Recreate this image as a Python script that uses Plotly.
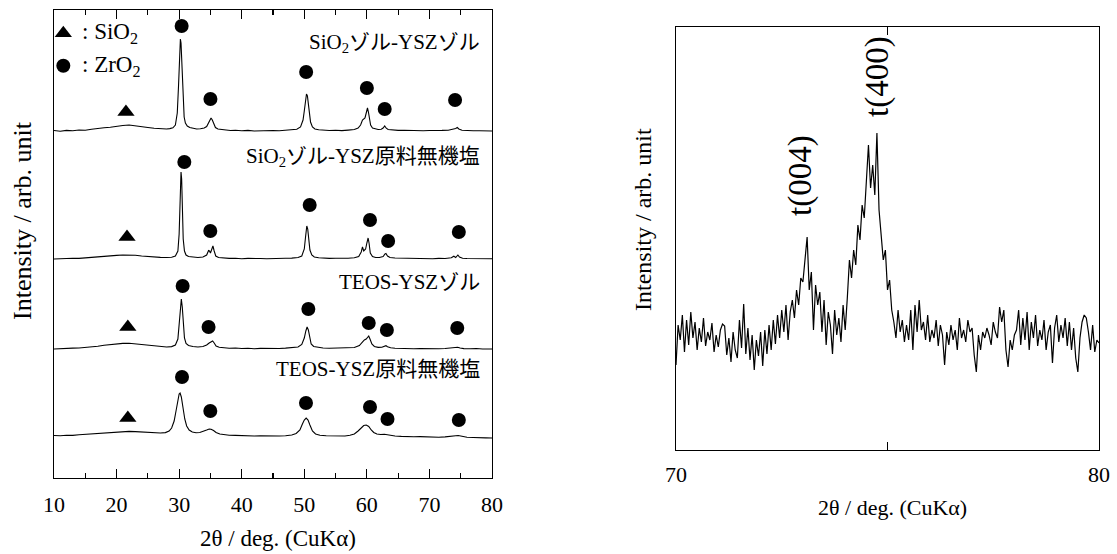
import plotly.graph_objects as go

# ---------------- data (left panel: XRD patterns, intensity in arb. units) ----------------
SAMPLE_NAMES = ["SiO<sub>2</sub>ゾル-YSZゾル", "SiO<sub>2</sub>ゾル-YSZ原料無機塩",
                "TEOS-YSZゾル", "TEOS-YSZ原料無機塩"]
BASE_OFFSETS = [347, 219, 129, 41]

x_sol_sol = [10, 11, 12, 13, 14, 15, 16, 17, 18, 19, 20, 21, 22, 23, 24, 25, 26, 27, 28, 28.5, 29, 29.4, 29.7, 29.9,
             30.0, 30.1, 30.2, 30.3, 30.4, 30.5, 30.6, 30.8, 31.0, 31.3, 31.7, 32.2, 32.8, 33.4, 34.0, 34.4, 34.7,
             34.9, 35.1, 35.3, 35.5, 35.8, 36.2, 36.8, 37.5, 38.2, 39, 40, 41, 42, 43, 44, 45, 46, 47, 48, 48.8,
             49.4, 49.8, 50.0, 50.2, 50.35, 50.5, 50.65, 50.8, 51.0, 51.3, 51.7, 52.3, 53, 54, 55, 56, 57, 58, 58.6,
             59.0, 59.3, 59.5, 59.7, 59.9, 60.1, 60.25, 60.4, 60.6, 60.9, 61.3, 61.8, 62.3, 62.6, 62.85, 63.1, 63.4,
             64, 65, 66, 67, 68, 69, 70, 71, 72, 73, 73.8, 74.2, 74.45, 74.7, 75.2, 76, 77, 78, 79, 80]
y_sol_sol = [0.5, -0.3, 0.6, 0.2, 1.0, 0.8, 1.8, 2.2, 3.2, 3.8, 4.8, 5.5, 6.0, 5.4, 4.6, 3.5, 2.8, 2.2, 2.0, 2.4, 3.2,
             6, 18, 45, 68, 85, 92, 88, 70, 48, 30, 14, 8, 5, 3.5, 2.5, 2.0, 2.2, 3.0, 4.5, 8, 11, 13, 11, 7, 3.5, 2,
             1.2, 1, 0.5, 0.8, 0.2, 0.6, 0, 0.4, 0.1, 0.5, 0.3, 0.8, 1.0, 1.8, 4, 11, 20, 32, 37, 35, 27, 17, 9, 4,
             2, 1.2, 0.8, 0.5, 0.8, 0.4, 0.9, 1.5, 3, 6, 11, 12, 13, 18, 23, 19, 12, 6, 3, 2, 1.5, 1.8, 3, 5, 2.8,
             1.5, 1, 0.6, 0.8, 0.4, 0.6, 0.2, 0.5, 0.3, 0.6, 0.8, 1.5, 2.5, 3.5, 2, 0.8, 0.4, 0.2, 0.3, -0.2, 0]

x_sol_salt = [10, 11, 12, 13, 14, 15, 16, 17, 18, 19, 20, 21, 22, 23, 24, 25, 26, 27, 28, 28.8, 29.4, 29.8, 30.0,
              30.15, 30.3, 30.4, 30.5, 30.65, 30.85, 31.1, 31.5, 32.2, 33, 33.8, 34.4, 34.7, 34.85, 35.0, 35.2, 35.4,
              35.6, 35.85, 36.3, 37, 38, 39, 40, 41, 42, 43, 44, 45, 46, 47, 48, 49, 49.6, 50.0, 50.2, 50.4, 50.55,
              50.7, 50.9, 51.2, 51.6, 52.3, 53, 54, 55, 56, 57, 58, 58.7, 59.1, 59.3, 59.5, 59.8, 60.0, 60.2, 60.35,
              60.55, 60.9, 61.4, 62, 62.6, 62.9, 63.05, 63.3, 63.7, 64.5, 65.5, 66.5, 67.5, 68.5, 69.5, 70.5, 71.5,
              72.5, 73.5, 73.9, 74.2, 74.55, 74.8, 75.3, 76, 77, 78, 79, 80]
y_sol_salt = [0, 0.4, 0.2, 0.8, 0.6, 1.2, 1.5, 2.0, 2.6, 3.0, 3.6, 4.0, 4.2, 3.8, 3.0, 2.4, 1.8, 1.6, 1.5, 1.8, 3, 8,
              25, 60, 87, 80, 50, 20, 8, 4, 2.5, 1.8, 1.5, 2, 4, 8.5, 8, 6, 10, 13, 8, 3, 1.5, 1, 0.6, 0.8, 0.3, 0.6,
              0.2, 0.5, 0.2, 0.6, 0.4, 0.7, 0.9, 1.5, 3, 10, 22, 33, 30, 20, 9, 4, 2, 1.2, 0.8, 0.6, 0.8, 0.5, 0.8,
              1.2, 2.5, 7, 12, 8, 10, 16, 21, 16, 6, 2.5, 1.5, 1.5, 2.5, 5, 5.5, 3, 1.5, 1, 0.8, 0.5, 0.8, 0.4, 0.6,
              0.3, 0.6, 0.5, 1.2, 2.8, 1.5, 4, 2, 0.8, 0.5, 0.3, 0.5, 0.1, 0.2]

x_teos_sol = [10, 11, 12, 13, 14, 15, 16, 17, 18, 19, 20, 21, 22, 23, 24, 25, 26, 27, 28, 28.8, 29.4, 29.8, 30.0,
              30.2, 30.35, 30.5, 30.65, 30.85, 31.1, 31.5, 32.2, 33, 33.8, 34.4, 34.8, 35.1, 35.35, 35.6, 35.9, 36.4,
              37, 38, 39, 40, 41, 42, 43, 44, 45, 46, 47, 48, 49, 49.6, 50.0, 50.25, 50.45, 50.65, 50.85, 51.1, 51.5,
              52.2, 53, 54, 55, 56, 57, 58, 58.8, 59.3, 59.6, 59.9, 60.1, 60.3, 60.5, 60.8, 61.2, 61.8, 62.4, 62.8,
              63.05, 63.3, 63.8, 64.5, 65.5, 66.5, 67.5, 68.5, 69.5, 70.5, 71.5, 72.5, 73.5, 74.1, 74.5, 74.9, 75.5,
              76.5, 77.5, 78.5, 79.5, 80]
y_teos_sol = [0, 0.5, 0.3, 0.9, 1.0, 1.5, 2.2, 2.8, 3.8, 4.5, 5.2, 5.6, 5.8, 5.2, 4.4, 3.6, 2.8, 2.3, 2.0, 2.4, 4, 10,
              22, 40, 50, 42, 25, 11, 5.5, 3.5, 2.5, 2, 2.5, 4, 6, 7, 8, 6, 3, 1.8, 1.2, 0.8, 1.0, 0.5, 0.8, 0.3, 0.6,
              0.4, 0.7, 0.5, 0.9, 1.2, 2, 4.5, 11, 18, 22, 19, 11, 5, 2.5, 1.5, 1, 0.8, 1.0, 0.6, 0.9, 1.5, 3.5, 7, 9,
              10, 12, 13, 10, 5, 2.5, 1.6, 1.8, 2.8, 3.3, 2.2, 1.2, 0.8, 0.5, 0.8, 0.3, 0.5, 0.2, 0.6, 0.3, 0.5, 0.8,
              1.2, 1.8, 1, 0.4, 0.2, 0.5, 0, 0.3, 0]

x_teos_salt = [10, 11, 12, 13, 14, 15, 16, 17, 18, 19, 20, 21, 22, 23, 24, 25, 26, 27, 27.8, 28.4, 28.8, 29.2, 29.5,
               29.8, 30.0, 30.15, 30.35, 30.6, 30.9, 31.2, 31.6, 32.1, 32.7, 33.3, 33.9, 34.4, 34.8, 35.1, 35.5, 35.9,
               36.5, 37.2, 38, 39, 40, 41, 42, 43, 44, 45, 46, 47, 48, 48.7, 49.3, 49.7, 50.0, 50.3, 50.6, 50.9, 51.3,
               51.8, 52.5, 53.5, 54.5, 55.5, 56.5, 57.3, 58, 58.6, 59.1, 59.5, 59.9, 60.3, 60.7, 61.1, 61.6, 62.2,
               62.8, 63.2, 63.8, 64.5, 65.5, 66.5, 67.5, 68.5, 69.5, 70.5, 71.5, 72.5, 73.5, 74.2, 74.6, 75.1, 76, 77,
               78, 79, 80]
y_teos_salt = [1.5, 1.2, 1.8, 1.6, 2.2, 2.6, 3.0, 3.6, 4.2, 4.8, 5.2, 5.5, 5.6, 5.4, 5.0, 4.6, 4.2, 4.0, 4.4, 6, 9, 16,
               26, 38, 43, 44, 40, 30, 18, 11, 7, 5, 4.2, 4.5, 5.5, 7, 8, 7.8, 6.5, 4.5, 3, 2.2, 1.8, 1.6, 1.2, 1.4,
               1.0, 1.2, 0.9, 1.1, 1.0, 1.3, 2.0, 3.5, 7, 13, 17, 19, 17, 12, 6, 3, 1.8, 1.2, 1.0, 1.2, 1.0, 1.8, 3, 6,
               9.5, 11.5, 12, 10.5, 7, 4.5, 3, 2.5, 2.8, 2.4, 1.5, 1.0, 0.6, 0.8, 0.3, 0.4, 0, 0.2, -0.2, 0.1, 0.4,
               1.2, 1.5, 0.6, -0.3, -0.5, -0.4, -0.9, -1.0]

PATTERN_X = [x_sol_sol, x_sol_salt, x_teos_sol, x_teos_salt]
PATTERN_Y = [y_sol_sol, y_sol_salt, y_teos_sol, y_teos_salt]

# phase markers (peak identification symbols)
ZRO2_MARK_X = [[30.4, 35.0, 50.3, 60.0, 62.85, 74.1],
               [30.83, 34.98, 50.86, 60.5, 63.4, 74.7],
               [30.56, 34.7, 50.65, 60.3, 63.2, 74.45],
               [30.46, 34.98, 50.27, 60.5, 63.3, 74.7]]
ZRO2_MARK_Y = [[452, 379, 406, 390, 369, 378],
               [316, 247, 273, 258, 237, 246],
               [192, 151, 169, 155, 148, 150],
               [101, 67, 75, 71, 59, 58]]
SIO2_MARK_X = [21.5, 21.67, 21.8, 21.8]
SIO2_MARK_Y = [366, 241, 151, 60]

# ---------------- data (right panel: 70-80 deg detail) ----------------
X_DETAIL_START, X_DETAIL_STEP = 70.0, 0.05
y_detail = [85, 125, 110, 135, 98, 130, 105, 138, 112, 128, 100, 122, 108, 132, 104, 118, 110, 127, 98, 115,
            103, 120, 126, 124, 95, 112, 88, 118, 100, 92, 130, 102, 146, 96, 122, 90, 115, 80, 110, 94,
            118, 84, 120, 96, 125, 100, 130, 106, 135, 112, 140, 118, 145, 110, 138, 150, 132, 160, 145, 172,
            168, 195, 213, 160, 178, 120, 165, 145, 158, 118, 150, 105, 138, 125, 96, 140, 115, 132, 108, 145,
            120, 152, 190, 172, 200, 185, 225, 210, 245, 232, 265, 305, 262, 285, 255, 317, 240, 215, 190, 200,
            160, 170, 140, 128, 112, 140, 118, 130, 108, 125, 110, 140, 100, 145, 118, 150, 120, 128, 110, 135,
            108, 120, 112, 130, 104, 125, 115, 85, 118, 105, 125, 110, 120, 100, 132, 112, 120, 108, 130, 118,
            122, 95, 78, 115, 100, 118, 112, 122, 115, 105, 128, 118, 112, 143, 128, 140, 100, 83, 110, 100,
            115, 120, 140, 105, 132, 110, 138, 100, 128, 112, 135, 104, 120, 110, 130, 100, 118, 125, 87, 122,
            135, 108, 125, 112, 132, 104, 128, 100, 122, 92, 78, 112, 128, 135, 132, 118, 100, 125, 98, 110, 107]
x_detail = [round(X_DETAIL_START + i * X_DETAIL_STEP, 2) for i in range(len(y_detail))]
PEAK_LABELS = ["t(004)", "t(400)"]
PEAK_LABEL_X = [72.93, 74.75]
PEAK_LABEL_Y = [275, 374]

# ---------------- figure ----------------
W, H = 1117, 554
FONT = "Liberation Serif, 'Times New Roman', 'Noto Sans CJK JP', serif"

fig = go.Figure()

for xs, ys, off in zip(PATTERN_X, PATTERN_Y, BASE_OFFSETS):
    fig.add_trace(go.Scatter(x=xs, y=[v + off for v in ys], mode="lines",
                             line=dict(color="black", width=1.1), xaxis="x", yaxis="y",
                             hoverinfo="skip"))

zx = [v for row in ZRO2_MARK_X for v in row]
zy = [v for row in ZRO2_MARK_Y for v in row]
fig.add_trace(go.Scatter(x=zx, y=zy, mode="markers",
                         marker=dict(symbol="circle", size=14, color="black"), xaxis="x", yaxis="y"))
fig.add_trace(go.Scatter(x=SIO2_MARK_X, y=SIO2_MARK_Y, mode="markers",
                         marker=dict(symbol="triangle-up", size=15, color="black"), xaxis="x", yaxis="y"))

# key symbols (top-left)
fig.add_trace(go.Scatter(x=[11.49], y=[444.7], mode="markers",
                         marker=dict(symbol="triangle-up", size=15, color="black"), xaxis="x", yaxis="y"))
fig.add_trace(go.Scatter(x=[11.49], y=[412.3], mode="markers",
                         marker=dict(symbol="circle", size=14, color="black"), xaxis="x", yaxis="y"))

fig.add_trace(go.Scatter(x=x_detail, y=y_detail, mode="lines",
                         line=dict(color="black", width=1.2), xaxis="x2", yaxis="y2", hoverinfo="skip"))

ann = []
LABEL_Y = [435, 321, 196, 109]
for name, ly in zip(SAMPLE_NAMES, LABEL_Y):
    ann.append(dict(x=78.35, y=ly, xref="x", yref="y", text=name, showarrow=False,
                    xanchor="right", yanchor="middle", font=dict(size=21, family=FONT, color="black")))
ann.append(dict(x=14.2, y=444.7, xref="x", yref="y", text=": SiO<sub>2</sub>", showarrow=False,
                xanchor="left", yanchor="middle", font=dict(size=23, family=FONT, color="black")))
ann.append(dict(x=14.2, y=412.3, xref="x", yref="y", text=": ZrO<sub>2</sub>", showarrow=False,
                xanchor="left", yanchor="middle", font=dict(size=23, family=FONT, color="black")))
for t, px, py in zip(PEAK_LABELS, PEAK_LABEL_X, PEAK_LABEL_Y):
    ann.append(dict(x=px, y=py, xref="x2", yref="y2", text=t, showarrow=False, textangle=-90,
                    xanchor="center", yanchor="middle", font=dict(size=33, family=FONT, color="black")))

# axis titles
ann.append(dict(x=278 / W, y=1 - 538 / H, xref="paper", yref="paper", text="2θ / deg. (CuKα)",
                showarrow=False, xanchor="center", yanchor="middle",
                font=dict(size=23, family=FONT, color="black")))
ann.append(dict(x=22 / W, y=1 - 221 / H, xref="paper", yref="paper", text="Intensity / arb. unit",
                showarrow=False, textangle=-90, xanchor="center", yanchor="middle",
                font=dict(size=26, family=FONT, color="black")))
ann.append(dict(x=892 / W, y=1 - 507 / H, xref="paper", yref="paper", text="2θ / deg. (CuKα)",
                showarrow=False, xanchor="center", yanchor="middle",
                font=dict(size=22, family=FONT, color="black")))
ann.append(dict(x=643 / W, y=1 - 220 / H, xref="paper", yref="paper", text="Intensity / arb. unit",
                showarrow=False, textangle=-90, xanchor="center", yanchor="middle",
                font=dict(size=24, family=FONT, color="black")))

axis_common = dict(showline=True, linecolor="black", linewidth=1.3, showgrid=False, zeroline=False,
                   mirror="ticks", ticks="inside", tickcolor="black", tickwidth=1.2, automargin=False)

fig.update_layout(
    width=W, height=H, autosize=False, margin=dict(l=0, r=0, t=0, b=0, pad=0),
    paper_bgcolor="white", plot_bgcolor="white", showlegend=False,
    font=dict(family=FONT, color="black"),
    xaxis=dict(domain=[54 / W, 492 / W], range=[10, 80], anchor="y",
               tickvals=[10, 20, 30, 40, 50, 60, 70, 80], ticklen=9,
               minor=dict(dtick=5, tick0=5, ticks="inside", ticklen=5, tickcolor="black", tickwidth=1.2),
               tickfont=dict(size=22, family=FONT, color="black"), ticklabelstandoff=6, **axis_common),
    yaxis=dict(domain=[1 - 478 / H, 1 - 10 / H], range=[0, 468], anchor="x",
               showticklabels=False, showline=True, linecolor="black", linewidth=1.3, mirror=True,
               ticks="", showgrid=False, zeroline=False, automargin=False),
    xaxis2=dict(domain=[676 / W, 1099 / W], range=[70, 80], anchor="y2",
                tickvals=[70, 75, 80], ticktext=["70", "", "80"], ticklen=8,
                tickfont=dict(size=22, family=FONT, color="black"), ticklabelstandoff=4, **axis_common),
    yaxis2=dict(domain=[1 - 450 / H, 1 - 27 / H], range=[0, 423], anchor="x2",
                showticklabels=False, showline=True, linecolor="black", linewidth=1.3, mirror=True,
                ticks="", showgrid=False, zeroline=False, automargin=False),
    annotations=ann,
)

fig.write_html("out.html",
               config={"responsive": False, "displayModeBar": False, "staticPlot": True},
               post_script="document.body.style.margin='0';document.body.style.padding='0';"
                           "document.body.style.overflow='hidden';")
